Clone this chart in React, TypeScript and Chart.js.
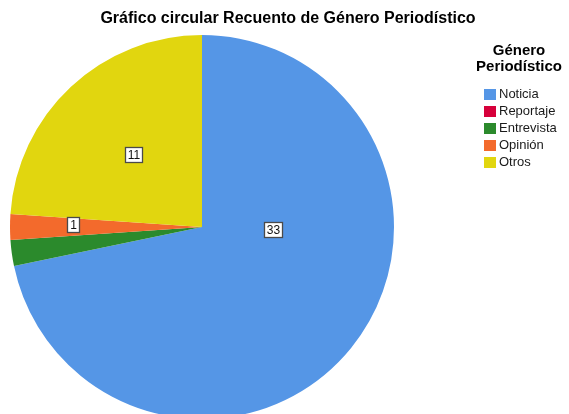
import React, { useEffect, useRef } from "react";
import { Chart, registerables } from "chart.js";

Chart.register(...registerables);

const title = "Gráfico circular Recuento de Género Periodístico";
const legendTitle = ["Género", "Periodístico"];
const categories = ["Noticia", "Reportaje", "Entrevista", "Opinión", "Otros"];
const counts = [33, 0, 1, 1, 11];
const colors = ["#5596E6", "#D6003B", "#2B8A2C", "#F36A2C", "#E1D60F"];
// label placement inside each slice: [fraction along slice angle, fraction of radius] or null (hidden)
const labelPlacement: ([number, number] | null)[] = [
  [0.356, 0.372],
  null,
  null,
  [0.66, 0.672],
  [0.5, 0.52],
];

const W = 569;
const H = 422;

const FONT = '"Liberation Sans", Arial, sans-serif';

const overlayPlugin = {
  id: "overlay",
  afterDatasetsDraw(chart: any) {
    const ctx = chart.ctx as CanvasRenderingContext2D;
    const meta = chart.getDatasetMeta(0);
    ctx.save();
    // value labels
    ctx.font = `12px ${FONT}`;
    ctx.textAlign = "center";
    ctx.textBaseline = "middle";
    meta.data.forEach((arc: any, i: number) => {
      const p = labelPlacement[i];
      if (!p || !counts[i]) return;
      const { x, y, startAngle, endAngle, outerRadius } = arc.getProps(
        ["x", "y", "startAngle", "endAngle", "outerRadius"],
        true
      );
      const a = startAngle + (endAngle - startAngle) * p[0];
      const r = outerRadius * p[1];
      const cx = x + Math.cos(a) * r;
      const cy = y + Math.sin(a) * r;
      const txt = String(counts[i]);
      const tw = ctx.measureText(txt).width;
      const bw = Math.round(tw + 5);
      const bh = 15;
      const bx = Math.round(cx - bw / 2) + 0.5;
      const by = Math.round(cy - bh / 2) + 0.5;
      ctx.fillStyle = "#ffffff";
      ctx.fillRect(bx, by, bw, bh);
      ctx.strokeStyle = "#4a4a4a";
      ctx.lineWidth = 1.3;
      ctx.strokeRect(bx, by, bw, bh);
      ctx.fillStyle = "#111111";
      ctx.fillText(txt, bx + bw / 2, by + bh / 2 + 0.5);
    });
    ctx.restore();
  },
  afterDraw(chart: any) {
    const ctx = chart.ctx as CanvasRenderingContext2D;
    ctx.save();
    // chart title
    ctx.fillStyle = "#000000";
    ctx.textAlign = "center";
    ctx.textBaseline = "middle";
    ctx.font = `bold 16px ${FONT}`;
    ctx.fillText(title, 288, 19);
    // legend title
    ctx.font = `bold 15px ${FONT}`;
    ctx.fillText(legendTitle[0], 519, 51);
    ctx.fillText(legendTitle[1], 519, 67);
    // legend items
    ctx.textAlign = "left";
    ctx.font = `13px ${FONT}`;
    categories.forEach((c, i) => {
      const yc = 94 + i * 17;
      ctx.fillStyle = colors[i];
      ctx.fillRect(484, Math.round(yc - 5.5), 12, 11);
      ctx.fillStyle = "#1a1a1a";
      ctx.fillText(c, 499, yc + 0.5);
    });
    ctx.restore();
  },
};

export default function App() {
  const ref = useRef<HTMLCanvasElement | null>(null);
  useEffect(() => {
    if (!ref.current) return;
    const chart = new Chart(ref.current, {
      type: "pie",
      data: {
        labels: categories,
        datasets: [
          {
            data: counts,
            backgroundColor: colors,
            borderWidth: 0,
          },
        ],
      },
      options: {
        responsive: false,
        animation: false,
        layout: { padding: { left: 10, top: 35, right: W - 10 - 384, bottom: H - 35 - 384 } },
        plugins: {
          legend: { display: false },
          title: { display: false },
          tooltip: { enabled: false },
        },
      },
      plugins: [overlayPlugin],
    });
    return () => chart.destroy();
  }, []);
  return (
    <div
      style={{
        position: "fixed",
        left: 0,
        top: 0,
        width: W,
        height: 414,
        overflow: "hidden",
        background: "#ffffff",
      }}
    >
      <canvas ref={ref} width={W} height={H} style={{ display: "block" }} />
    </div>
  );
}
